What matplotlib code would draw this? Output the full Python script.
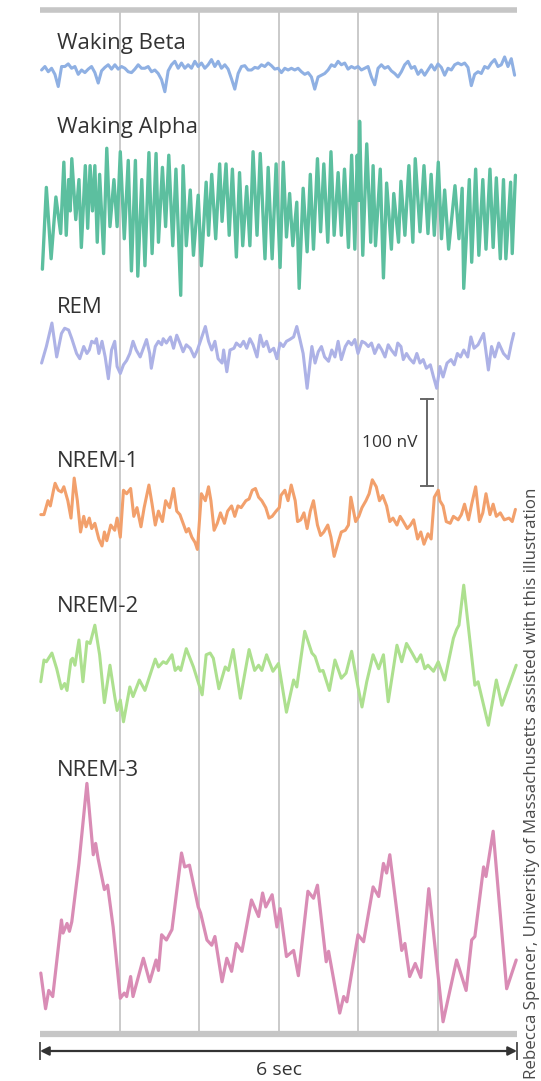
import matplotlib
matplotlib.use("Agg")
import matplotlib.pyplot as plt
import numpy as np

plt.rcParams['font.family'] = ['Open Sans', 'DejaVu Sans']

# ---------------- data (time in s, amplitude in nV) ----------------
grid_seconds = [1, 2, 3, 4, 5]
duration_label = "6 sec"
scale_bar_nv = 100
scale_bar_label = "100 nV"
credit = "Rebecca Spencer, University of Massachusetts assisted with this illustration"

beta_label = "Waking Beta"
beta_t_start, beta_t_end = 0.02, 5.97
beta_v = [0, 4, -2, 2, -5, -19, 4, 4, 7, 2, 4, -5, 0, -3, 1, 4, -3, -15, -1, 3,
          6, 1, 6, 1, 4, 2, -2, -3, 1, 6, 2, 2, 4, -2, 0, -4, -11, -25, -1, 6,
          10, 2, 8, 2, 6, 2, 10, 4, 8, 2, 6, 12, 4, 10, 2, 6, 1, -10, -22, -4,
          4, 5, 0, 0, 3, 2, 6, 4, 8, 5, 1, 2, -3, 2, 0, 2, 0, 2, -2, -5,
          -3, -8, -22, -8, -6, -4, 0, 6, 4, 10, 6, 8, 1, 4, 2, 4, 0, 2, 4, -8,
          -17, 2, 6, 2, 4, -1, -4, -8, -2, 6, 10, 2, 4, -5, 0, -6, 0, 6, 0, 7,
          3, -6, 2, 0, 6, 8, 6, 8, 3, -18, -5, -2, -4, 4, 2, 8, 12, 4, 6, 15,
          4, 13, -6]

alpha_label = "Waking Alpha"
alpha_t = [0.03, 0.08, 0.14, 0.20, 0.26, 0.30, 0.33, 0.36, 0.38, 0.40,
           0.45, 0.49, 0.52, 0.57, 0.60, 0.63, 0.66, 0.69, 0.72, 0.75,
           0.80, 0.84, 0.88, 0.93, 0.97, 1.01, 1.06, 1.11, 1.15, 1.20,
           1.23, 1.28, 1.32, 1.37, 1.41, 1.46, 1.49, 1.54, 1.58, 1.62,
           1.67, 1.71, 1.77, 1.80, 1.84, 1.89, 1.93, 1.99, 2.03, 2.09,
           2.12, 2.16, 2.21, 2.26, 2.29, 2.34, 2.38, 2.42, 2.47, 2.51,
           2.55, 2.60, 2.64, 2.68, 2.73, 2.77, 2.83, 2.87, 2.92, 2.97,
           3.02, 3.06, 3.10, 3.14, 3.18, 3.23, 3.26, 3.31, 3.36, 3.40,
           3.44, 3.49, 3.53, 3.57, 3.62, 3.66, 3.70, 3.75, 3.79, 3.83,
           3.88, 3.92, 3.96, 3.99, 4.01, 4.02, 4.06, 4.11, 4.16, 4.19,
           4.22, 4.28, 4.32, 4.36, 4.42, 4.45, 4.51, 4.54, 4.59, 4.64,
           4.69, 4.72, 4.78, 4.83, 4.88, 4.92, 4.96, 5.01, 5.05, 5.09,
           5.14, 5.22, 5.27, 5.31, 5.33, 5.40, 5.43, 5.48, 5.52, 5.57,
           5.61, 5.66, 5.70, 5.74, 5.79, 5.83, 5.86, 5.92, 5.94, 5.98]
alpha_v = [-60, 34, -48, 23, -19, 63, -21, 43, 7, 67, -3, 43, -35, 59, -13, 59, 7, 59, -29, 49,
           -42, 79, -11, 43, -11, 75, -25, 65, -62, 65, -68, 43, -56, 74, -42, 73, -29, 57, -11, 71,
           -33, 55, -90, 59, -33, 31, -44, 25, -56, 40, -21, 49, -25, 61, -5, 61, -21, 55, -46, 51,
           -33, 35, -33, 75, -21, 73, -48, 57, -48, 61, -58, 63, -23, 27, -33, 17, -82, 33, -40, 49,
           -37, 67, -17, 61, -29, 75, -21, 51, -21, 55, -35, 71, -37, 71, 19, 110, -44, 84, -29, 59,
           -33, 55, -70, 39, -37, 27, -29, 41, -21, 59, -29, 67, -17, 59, -19, 49, -21, 63, -25, 31,
           -37, 36, -25, 33, -82, 43, -52, 55, -44, 43, -37, 55, -35, 45, -48, 43, -48, 40, -42, 48]

rem_label = "REM"
rem_t = [0.02, 0.08, 0.15, 0.21, 0.27, 0.31, 0.36, 0.40, 0.46, 0.50,
         0.55, 0.59, 0.62, 0.65, 0.69, 0.71, 0.74, 0.78, 0.82, 0.86,
         0.90, 0.94, 0.97, 1.01, 1.05, 1.09, 1.13, 1.17, 1.21, 1.26,
         1.30, 1.34, 1.38, 1.40, 1.45, 1.49, 1.53, 1.55, 1.59, 1.64,
         1.68, 1.72, 1.76, 1.80, 1.84, 1.89, 1.94, 1.98, 2.01, 2.08,
         2.12, 2.16, 2.20, 2.24, 2.29, 2.31, 2.35, 2.39, 2.44, 2.47,
         2.52, 2.56, 2.60, 2.64, 2.68, 2.73, 2.77, 2.81, 2.85, 2.89,
         2.94, 2.98, 3.02, 3.06, 3.10, 3.14, 3.19, 3.23, 3.27, 3.31,
         3.36, 3.42, 3.46, 3.50, 3.54, 3.58, 3.63, 3.67, 3.71, 3.75,
         3.79, 3.84, 3.88, 3.92, 3.96, 4.00, 4.05, 4.09, 4.13, 4.17,
         4.21, 4.26, 4.30, 4.34, 4.38, 4.42, 4.47, 4.50, 4.54, 4.57,
         4.61, 4.65, 4.70, 4.74, 4.78, 4.82, 4.86, 4.91, 4.95, 4.99,
         5.03, 5.07, 5.12, 5.17, 5.21, 5.25, 5.29, 5.33, 5.38, 5.42,
         5.46, 5.51, 5.58, 5.64, 5.68, 5.72, 5.77, 5.83, 5.89, 5.93,
         5.96]
rem_v = [-15, 4, 31, -8, 19, 25, 23, 13, -4, -10, 4, -4, 0, 10, 8, 13, -4, 10, -8, -33,
         0, 10, -19, -27, -17, -12, -4, 10, 0, -8, 2, 12, -4, -21, 4, 10, 6, 13, 8, 15,
         2, 17, 8, -2, 6, 2, -8, 0, 8, 27, 10, 0, 10, -10, -15, 0, -25, 0, 2, 8,
         4, 10, 2, 13, 6, -8, 17, 4, 10, -2, 2, -10, 8, 4, 10, 12, 15, 27, 12, -4,
         -44, 4, -15, -2, 4, -8, -13, 0, -8, 10, -11, 4, 10, 6, 12, -4, 10, 8, 4, 8,
         -4, 6, 0, -8, 6, 0, -6, 8, 4, -11, -4, -10, -15, -4, -15, -11, -21, -17, -31, -44,
         -19, -31, -15, -11, -17, -4, -8, 0, -8, 15, 2, 6, 19, -23, 4, -8, 8, -4, -10, 8,
         19]

nrem1_label = "NREM-1"
nrem1_t = [0.01, 0.05, 0.10, 0.13, 0.17, 0.19, 0.23, 0.27, 0.30, 0.35,
           0.39, 0.43, 0.47, 0.51, 0.55, 0.58, 0.62, 0.65, 0.69, 0.74,
           0.78, 0.81, 0.84, 0.89, 0.94, 0.97, 1.01, 1.05, 1.09, 1.14,
           1.18, 1.22, 1.27, 1.31, 1.37, 1.41, 1.45, 1.49, 1.54, 1.58,
           1.63, 1.68, 1.72, 1.76, 1.80, 1.84, 1.87, 1.91, 1.95, 1.98,
           2.03, 2.08, 2.12, 2.15, 2.19, 2.23, 2.27, 2.32, 2.36, 2.41,
           2.45, 2.49, 2.53, 2.59, 2.63, 2.67, 2.71, 2.75, 2.79, 2.84,
           2.88, 2.92, 2.97, 3.01, 3.03, 3.08, 3.12, 3.16, 3.21, 3.24,
           3.28, 3.32, 3.36, 3.40, 3.44, 3.49, 3.53, 3.57, 3.62, 3.66,
           3.70, 3.75, 3.79, 3.84, 3.88, 3.91, 3.97, 4.01, 4.05, 4.10,
           4.14, 4.18, 4.23, 4.27, 4.31, 4.36, 4.40, 4.44, 4.49, 4.53,
           4.57, 4.62, 4.66, 4.70, 4.75, 4.79, 4.83, 4.88, 4.92, 4.96,
           5.01, 5.03, 5.07, 5.11, 5.16, 5.20, 5.26, 5.30, 5.34, 5.39,
           5.43, 5.48, 5.53, 5.57, 5.61, 5.66, 5.70, 5.74, 5.79, 5.84,
           5.90, 5.94, 5.98]
nrem1_v = [-3, -3, 13, 7, 25, 33, 25, 23, 29, 13, -7, 39, 13, -23, -5, -17, -7, -19, -13, -31,
           -39, -23, -33, -15, -21, -7, -29, 25, 21, 27, -5, 5, -17, 5, 31, 9, -15, 1, -11, 13,
           5, 27, 1, -3, -13, -23, -19, -29, -35, -43, 21, 13, 29, 13, -21, -13, -1, -13, 1, 7,
           -5, 7, 5, 13, 15, 25, 27, 17, 13, 5, -7, -5, 1, 5, 19, 25, 13, 31, 13, -11,
           -9, -1, -19, 1, 13, -15, -27, -23, -15, -29, -51, -35, -23, -21, -15, 17, -11, -5, 5, 13,
           21, 37, 29, 13, 19, 7, -11, -7, -15, -5, -11, -19, -15, -9, -31, -23, -37, -25, -31, 17,
           25, 13, 7, -11, -13, -5, -9, -3, 9, -9, 9, 29, -11, -1, 21, -3, 9, -5, -1, -9,
           -7, -11, 3]

nrem2_label = "NREM-2"
nrem2_t = [0.01, 0.05, 0.08, 0.15, 0.21, 0.27, 0.31, 0.34, 0.39, 0.41,
           0.44, 0.49, 0.54, 0.59, 0.63, 0.69, 0.75, 0.81, 0.88, 0.94,
           0.97, 1.01, 1.05, 1.13, 1.17, 1.25, 1.32, 1.45, 1.49, 1.55,
           1.59, 1.66, 1.70, 1.74, 1.77, 1.84, 1.93, 2.04, 2.09, 2.14,
           2.18, 2.25, 2.33, 2.37, 2.43, 2.52, 2.63, 2.70, 2.75, 2.79,
           2.85, 2.93, 3.00, 3.10, 3.19, 3.23, 3.33, 3.42, 3.46, 3.52,
           3.56, 3.64, 3.71, 3.79, 3.85, 3.92, 4.00, 4.05, 4.11, 4.19,
           4.26, 4.32, 4.38, 4.49, 4.55, 4.61, 4.68, 4.74, 4.79, 4.84,
           4.88, 4.95, 5.01, 5.09, 5.20, 5.24, 5.27, 5.33, 5.47, 5.51,
           5.64, 5.74, 5.81, 5.99]
nrem2_v = [-25, 0, -2, 8, -10, -33, -27, -35, 0, 2, -6, 23, -25, 21, 19, 40, 6, -49, -6, -42,
           -58, -46, -71, -31, -42, -23, -35, 1, -8, -2, -4, 6, -12, -8, -12, 13, -8, -40, 6, 8,
           2, -33, -8, -12, 12, -44, 12, -12, -6, -12, 6, -13, -4, -60, -23, -31, 33, 8, 4, -13,
           -12, -35, 0, -21, -15, 10, -31, -54, -25, 6, -10, 6, -48, 17, -2, 19, 8, -2, 6, -10,
           -6, -13, -2, -23, 25, 35, 40, 86, -29, -25, -75, -23, -52, -6]

nrem3_label = "NREM-3"
nrem3_t = [0.01, 0.07, 0.11, 0.16, 0.27, 0.29, 0.34, 0.37, 0.40, 0.49,
           0.59, 0.67, 0.70, 0.73, 0.81, 0.85, 0.92, 1.01, 1.06, 1.09,
           1.14, 1.17, 1.30, 1.38, 1.46, 1.49, 1.53, 1.59, 1.66, 1.78,
           1.82, 1.88, 1.99, 2.02, 2.10, 2.16, 2.20, 2.29, 2.35, 2.41,
           2.47, 2.54, 2.66, 2.75, 2.80, 2.84, 2.92, 2.98, 3.02, 3.10,
           3.19, 3.25, 3.37, 3.44, 3.49, 3.60, 3.63, 3.77, 3.82, 3.86,
           4.00, 4.07, 4.19, 4.26, 4.32, 4.36, 4.40, 4.55, 4.59, 4.65,
           4.72, 4.79, 4.89, 5.07, 5.24, 5.36, 5.43, 5.47, 5.58, 5.61,
           5.70, 5.87, 5.99]
nrem3_v = [-38, -79, -58, -65, 23, 8, 19, 10, 21, 88, 180, 98, 111, 94, 58, 63, 15, -67, -61, -65,
           -42, -65, -21, -48, -23, -35, 6, 0, 12, 100, 84, 86, 38, 31, 0, -6, 4, -48, -21, -36,
           -4, -13, 46, 27, 54, 38, 52, 15, 36, -19, -12, -41, 56, 48, 63, -25, -13, -84, -65, -71,
           6, -2, 61, 50, 88, 77, 98, -12, -4, -42, -27, -43, 59, -94, -23, -58, 0, 4, 84, 73,
           125, -56, -23]

# ---------------- layout ----------------
W, H, DPI = 541, 1081, 100
X0 = 40                 # pixel column of t = 0
PX_PER_SEC = 79.5
NV_PER_PX = 100 / 87.0


def row(r):
    return -r * NV_PER_PX


fig = plt.figure(figsize=(W / DPI, H / DPI), dpi=DPI)
fig.patch.set_facecolor('white')
ax = fig.add_axes([0, 0, 1, 1])
ax.set_xlim(-X0 / PX_PER_SEC, (W - X0) / PX_PER_SEC)
ax.set_ylim(-H * NV_PER_PX, 0)
ax.axis('off')

t_end = 6.0
# vertical second lines
for s in grid_seconds:
    ax.plot([s, s], [row(10), row(1034)], color='#bcbcbc', lw=1.1, zorder=1)
# top and bottom bars
ax.plot([0, t_end], [row(10), row(10)], color='#c6c6c6', lw=4.0,
        solid_capstyle='butt', zorder=1)
ax.plot([0, t_end], [row(1034), row(1034)], color='#c6c6c6', lw=4.5,
        solid_capstyle='butt', zorder=1)

traces = [
    (beta_label, np.linspace(beta_t_start, beta_t_end, len(beta_v)), beta_v, 70, '#8fb0e3', 2.2, 43),
    (alpha_label, alpha_t, alpha_v, 217, '#5cbf9f', 2.4, 127),
    (rem_label, rem_t, rem_v, 350, '#adb2e6', 2.2, 308),
    (nrem1_label, nrem1_t, nrem1_v, 512, '#f2a06c', 2.2, 461),
    (nrem2_label, nrem2_t, nrem2_v, 660, '#ade08f', 2.2, 606),
    (nrem3_label, nrem3_t, nrem3_v, 940, '#d98cb5', 2.3, 771),
]
for label, t, v, base, color, lw, label_row in traces:
    ax.plot(np.asarray(t), row(base) + np.asarray(v, dtype=float), color=color,
            lw=lw, solid_joinstyle='round', solid_capstyle='round', zorder=3)
    fig.text(57 / W, 1 - label_row / H, label, ha='left', va='center',
             fontsize=16, color='#333333')

# scale bar
sb_t = (427 - X0) / PX_PER_SEC
cap = 6 / PX_PER_SEC
sb_top = row(399)
ax.plot([sb_t, sb_t], [sb_top, sb_top - scale_bar_nv], color='#666666', lw=1.4, zorder=4)
for yy in (sb_top, sb_top - scale_bar_nv):
    ax.plot([sb_t - cap, sb_t + cap], [yy, yy], color='#666666', lw=1.4, zorder=4)
fig.text(418 / W, 1 - 443 / H, scale_bar_label, ha='right', va='center',
         fontsize=12.5, color='#333333')

# duration arrow
ya = row(1051)
ax.annotate('', xy=(t_end, ya), xytext=(0, ya),
            arrowprops=dict(arrowstyle='<|-|>', color='#333333', lw=1.6,
                            shrinkA=0, shrinkB=0, mutation_scale=13))
for tt in (0, t_end):
    ax.plot([tt, tt], [row(1043), row(1059)], color='#555555', lw=1.4)
fig.text((X0 + 3 * PX_PER_SEC) / W, 1 - 1070 / H, duration_label, ha='center',
         va='center', fontsize=14, color='#333333')

# credit
fig.text(535.5 / W, 1 - 1079 / H, credit, rotation=90, rotation_mode='anchor',
         ha='left', va='baseline', fontsize=12.2, color='#4a4a4a')

fig.savefig('out.png', dpi=DPI, facecolor='white')
